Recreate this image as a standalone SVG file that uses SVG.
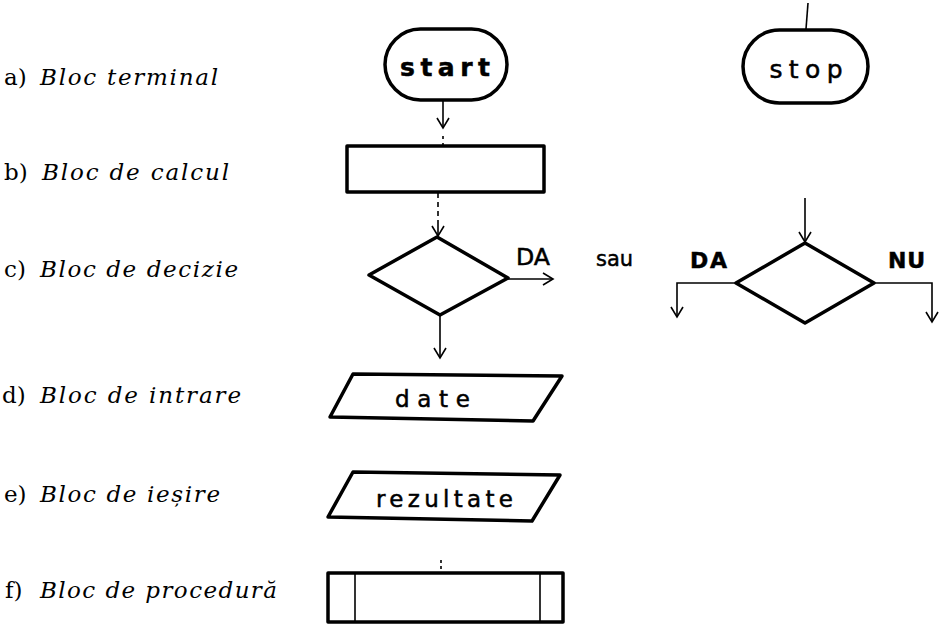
<svg xmlns="http://www.w3.org/2000/svg" width="943" height="626" viewBox="0 0 943 626">
  <defs>
    <marker id="vhead" viewBox="-12 -8 14 16" markerWidth="14" markerHeight="16" refX="0" refY="0" orient="auto" markerUnits="userSpaceOnUse">
      <path d="M-10,-6 L0,0 L-10,6" fill="none" stroke="#000" stroke-width="1.6"/>
    </marker>
    <style>
      .shape { fill: #fff; stroke: #000; stroke-width: 3.5; stroke-linejoin: round; }
      .thin { fill: none; stroke: #000; stroke-width: 1.6; }
      .link { fill: none; stroke: #000; stroke-width: 1.6; marker-end: url(#vhead); }
      .lbl { font-family: "DejaVu Serif", "Liberation Serif", serif; font-size: 23px; fill: #000; }
      .lbl .it { font-style: italic; }
      .blk { font-family: "DejaVu Sans", "Liberation Sans", sans-serif; fill: #000; stroke: #000; stroke-width: 0.5; }
    </style>
  </defs>

  <rect width="943" height="626" fill="#fff"/>

  <!-- block names -->
  <g id="labels">
    <text class="lbl" x="4" y="85">a) <tspan class="it" x="40" textLength="178" lengthAdjust="spacing">Bloc terminal</tspan></text>
    <text class="lbl" x="4" y="180">b) <tspan class="it" x="42" textLength="187" lengthAdjust="spacing">Bloc de calcul</tspan></text>
    <text class="lbl" x="4" y="277">c) <tspan class="it" x="40" textLength="198" lengthAdjust="spacing">Bloc de decizie</tspan></text>
    <text class="lbl" x="2" y="403">d) <tspan class="it" x="40" textLength="201" lengthAdjust="spacing">Bloc de intrare</tspan></text>
    <text class="lbl" x="4" y="502">e) <tspan class="it" x="40" textLength="180" lengthAdjust="spacing">Bloc de ieșire</tspan></text>
    <text class="lbl" x="5" y="598">f) <tspan class="it" x="40" textLength="237" lengthAdjust="spacing">Bloc de procedură</tspan></text>
  </g>

  <!-- a) terminal blocks -->
  <g id="start">
    <rect class="shape" x="385" y="29" width="122" height="71" rx="35.5"/>
    <text class="blk" x="445" y="76" font-size="25" font-weight="bold" text-anchor="middle" textLength="90" lengthAdjust="spacing">start</text>
  </g>
  <g id="stop">
    <rect class="shape" x="743" y="30" width="125" height="73" rx="36.5"/>
    <text class="blk" x="806" y="78" font-size="25" text-anchor="middle" textLength="73" lengthAdjust="spacing">stop</text>
  </g>

  <!-- b) process block -->
  <g id="calcul">
    <rect class="shape" x="347" y="146" width="197" height="46"/>
  </g>

  <!-- c) decision blocks -->
  <g id="decizie1">
    <polygon class="shape" points="437,237 508,278 440,315 369,275"/>
    <text class="blk" x="516" y="265" font-size="23" textLength="34" lengthAdjust="spacingAndGlyphs">DA</text>
  </g>
  <g id="sau">
    <text class="blk" x="596" y="266" font-size="22" textLength="37" lengthAdjust="spacingAndGlyphs">sau</text>
  </g>
  <g id="decizie2">
    <polygon class="shape" points="805,243 874,283 805,323 736,283"/>
    <text class="blk" x="690" y="268" font-size="22" font-weight="bold" textLength="37" lengthAdjust="spacing">DA</text>
    <text class="blk" x="888" y="268" font-size="22" font-weight="bold" textLength="37" lengthAdjust="spacing">NU</text>
  </g>

  <!-- d) input block -->
  <g id="intrare">
    <polygon class="shape" points="353,374 562,376 533,421 330,417"/>
    <text class="blk" x="395" y="407" font-size="23" textLength="75" lengthAdjust="spacing">date</text>
  </g>

  <!-- e) output block -->
  <g id="iesire">
    <polygon class="shape" points="353,472 560,475 532,521 328,517"/>
    <text class="blk" x="376" y="507" font-size="23" textLength="137" lengthAdjust="spacing">rezultate</text>
  </g>

  <!-- f) procedure block -->
  <g id="procedura">
    <rect class="shape" x="328" y="573" width="235" height="49"/>
    <line class="thin" x1="355" y1="574" x2="355" y2="621"/>
    <line class="thin" x1="540" y1="574" x2="540" y2="621"/>
  </g>

  <!-- connectors -->
  <g id="connectors">
    <line class="link" x1="443" y1="101" x2="443" y2="128"/>
    <line class="thin" x1="443" y1="136" x2="443" y2="145" stroke-dasharray="3 4"/>
    <line class="thin" x1="808" y1="3" x2="806" y2="29"/>
    <line class="thin" x1="438" y1="193" x2="438" y2="224" stroke-dasharray="5 4"/>
    <line class="link" x1="438" y1="224" x2="438" y2="236"/>
    <line class="link" x1="508" y1="279" x2="553" y2="279"/>
    <line class="link" x1="440" y1="316" x2="440" y2="358"/>
    <line class="link" x1="805" y1="198" x2="805" y2="242"/>
    <polyline class="link" points="736,283 677,283 677,317"/>
    <polyline class="link" points="874,283 932,283 932,322"/>
    <line class="thin" x1="441" y1="560" x2="441" y2="571" stroke-dasharray="3 3"/>
  </g>
</svg>
